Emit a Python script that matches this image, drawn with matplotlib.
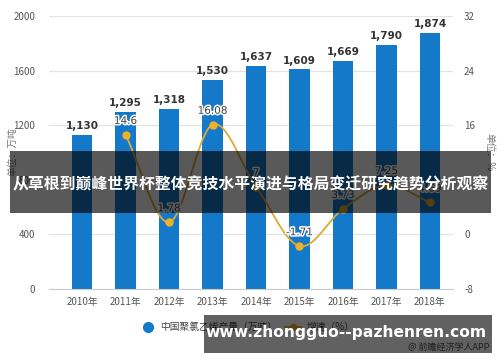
import numpy as np
import matplotlib
matplotlib.use("Agg")
import matplotlib.pyplot as plt
import matplotlib.patheffects as pe
from matplotlib.patches import Rectangle
from matplotlib.lines import Line2D

plt.rcParams['font.family'] = ['Noto Sans CJK SC', 'DejaVu Sans']

years = ["2010年", "2011年", "2012年", "2013年", "2014年", "2015年", "2016年", "2017年", "2018年"]
production = [1130, 1295, 1318, 1530, 1637, 1609, 1669, 1790, 1874]
growth_years_idx = [1, 2, 3, 4, 5, 6, 7, 8]
growth = [14.6, 1.78, 16.08, 7.0, -1.71, 3.73, 7.25, 4.69]
left_ticks = [0, 400, 800, 1200, 1600, 2000]
right_ticks = [-8, 0, 8, 16, 24, 32]

BLUE = "#1479c9"
GOLD_LINE = "#dcaa35"
GOLD_MK = "#f0b12a"

fig = plt.figure(figsize=(5, 3.62), dpi=100)
ax = fig.add_axes([49/500, 1-289/362, (453-49)/500, (289-16)/362])
x = np.arange(len(years))
ax.bar(x, production, width=0.475, color=BLUE, zorder=2)
ax.set_xlim(-0.76, 8.53)
ax.set_ylim(0, 2000)
ax.set_yticks(left_ticks)
ax.set_yticklabels([str(t) for t in left_ticks])
ax.set_xticks(x)
ax.set_xticklabels(years)
ax.tick_params(axis='both', length=0, labelsize=7, colors="#555555", pad=6)
ax.tick_params(axis='y', pad=10)
ax.grid(axis='y', color="#e3e3e3", linewidth=0.9, zorder=0)
for s in ['top', 'right', 'left']:
    ax.spines[s].set_visible(False)
ax.spines['bottom'].set_color("#cccccc")
ax.set_axisbelow(True)
for xi, v in zip(x, production):
    ax.text(xi, v + 28, f"{v:,}", ha='center', va='bottom', fontsize=7.5,
            fontweight='bold', color="#333333", family='DejaVu Sans')

ax2 = ax.twinx()
ax2.set_ylim(-8, 32)
ax2.set_yticks(right_ticks)
ax2.set_yticklabels([str(t) for t in right_ticks])
ax2.tick_params(axis='y', length=0, labelsize=7, colors="#555555", pad=8)
for s in ax2.spines.values():
    s.set_visible(False)

# smooth line (Catmull-Rom through data points)
gx = np.array(growth_years_idx, dtype=float)
gy = np.array(growth, dtype=float)
px = np.concatenate([[2*gx[0]-gx[1]], gx, [2*gx[-1]-gx[-2]]])
py = np.concatenate([[2*gy[0]-gy[1]], gy, [2*gy[-1]-gy[-2]]])
sx, sy = [], []
t = np.linspace(0, 1, 30)
for i in range(1, len(px)-2):
    p0, p1, p2, p3 = [np.array([px[j], py[j]]) for j in (i-1, i, i+1, i+2)]
    for tt in t:
        pt = 0.5*((2*p1) + (-p0+p2)*tt + (2*p0-5*p1+4*p2-p3)*tt**2 + (-p0+3*p1-3*p2+p3)*tt**3)
        sx.append(pt[0]); sy.append(pt[1])
ax2.plot(sx, sy, color=GOLD_LINE, linewidth=1.3, zorder=3)
ax2.plot(gx, gy, 'o', color=GOLD_MK, markersize=5, zorder=4)
for xi, v in zip(gx, gy):
    ax2.text(xi, v + 1.3, f"{v:g}", ha='center', va='bottom', fontsize=7.5,
             color="#444444", family='DejaVu Sans', zorder=5,
             path_effects=[pe.withStroke(linewidth=2.2, foreground='white')])

# unit labels
fig.text(12/500, 1-152/362, "单位：万吨", rotation=90, ha='center', va='center',
         fontsize=7, color="#777777")
fig.text(489/500, 1-152/362, "单位：%", rotation=-90, ha='center', va='center',
         fontsize=7, color="#777777")

# legend
fig.lines.append(Line2D([148/500], [1-327/362], marker='o', color=BLUE, markersize=7,
                        transform=fig.transFigure, linestyle='none'))
fig.text(160/500, 1-327/362, "中国聚氯乙烯产量（万吨）", ha='left', va='center', fontsize=7, color="#444444")
fig.lines.append(Line2D([285/500, 301/500], [1-327/362, 1-327/362], color=GOLD_LINE, linewidth=1.3,
                        transform=fig.transFigure))
fig.lines.append(Line2D([293/500], [1-327/362], marker='o', color=GOLD_MK, markersize=4.5,
                        transform=fig.transFigure, linestyle='none'))
fig.text(307/500, 1-327/362, "增速（%）", ha='left', va='center', fontsize=7, color="#444444")

# banner overlay
fig.patches.append(Rectangle((10/500, 1-213/362), 481/500, 62/362, transform=fig.transFigure,
                             facecolor='black', alpha=0.65, zorder=10, edgecolor='none'))
fig.text(251/500, 1-184/362, "从草根到巅峰世界杯整体竞技水平演进与格局变迁研究趋势分析观察",
         ha='center', va='center', fontsize=11.4, fontweight='bold', color='white', zorder=11)

# bottom box
fig.patches.append(Rectangle((204/500, 1-353/362), 288/500, 38/362, transform=fig.transFigure,
                             facecolor='black', alpha=0.62, zorder=10, edgecolor='none'))
fig.text(346/500, 1-333/362, "www.zhongguo--pazhenren.com", ha='center', va='center',
         fontsize=11.2, fontweight='bold', color='white', family='DejaVu Sans', zorder=11)
fig.text(490/500, 1-347/362, "@ 前瞻经济学人APP", ha='right', va='center', fontsize=6.5,
         color="#1e1e1e", zorder=12)

fig.savefig("out.png", dpi=100)
